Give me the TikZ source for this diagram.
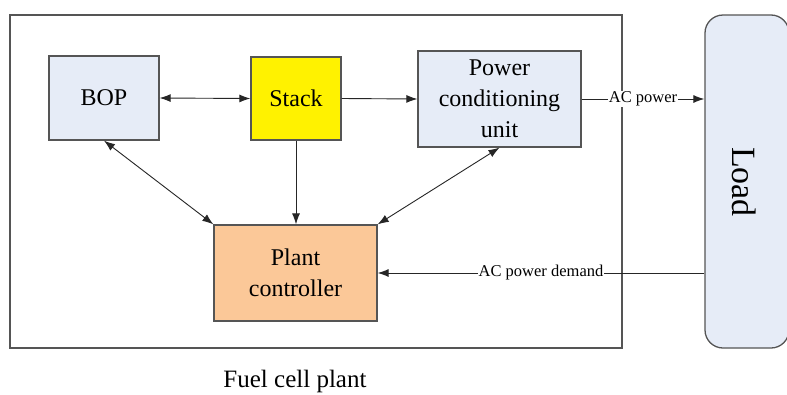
\documentclass[tikz,border=0pt]{standalone}
\usepackage{fontspec}
\setmainfont{Liberation Serif}
\usetikzlibrary{arrows.meta}
\definecolor{boxblue}{HTML}{E6ECF7}
\definecolor{ctrl}{HTML}{FBC898}
\definecolor{edge}{HTML}{555555}
\begin{document}
\begin{tikzpicture}[x=1pt,y=-1pt,
  blk/.style={draw=edge,line width=1.3pt,align=center,font=\rmfamily\fontsize{24}{31}\selectfont,inner sep=0pt},
  conn/.style={draw=black!85,line width=0.9pt,-{Latex[length=11pt,width=8pt]}},
  biconn/.style={draw=black!85,line width=0.9pt,{Latex[length=11pt,width=8pt]}-{Latex[length=11pt,width=8pt]}},
  lbl/.style={fill=white,inner sep=1pt,font=\rmfamily\fontsize{16.5}{18}\selectfont}]
\useasboundingbox (0,0) rectangle (787,394);
\fill[white] (0,0) rectangle (787,394);
\draw[edge,line width=1.3pt] (10,15) rectangle (622,348);
\node[blk,fill=boxblue,minimum width=110pt,minimum height=84pt] (bop) at (104,98) {BOP};
\node[blk,fill=yellow,minimum width=90pt,minimum height=83pt] (stack) at (296,98.5) {Stack};
\node[blk,fill=boxblue,minimum width=163pt,minimum height=96pt] (pcu) at (499.5,99) {Power\\conditioning\\unit};
\node[blk,fill=ctrl,minimum width=163pt,minimum height=96pt] (plant) at (295.5,273) {Plant\\controller};
\node[blk,fill=boxblue,rounded corners=18pt,minimum width=84pt,minimum height=333pt] (load) at (747,181.5) {};
\node[rotate=-90,font=\rmfamily\fontsize{34}{36}\selectfont] (loadtxt) at (744,182) {Load};
\node[font=\rmfamily\fontsize{25}{28}\selectfont] (fcp) at (295,381) {Fuel cell plant};
\draw[biconn] (bop.east) -- (stack.west);
\draw[conn] (stack.east) -- (pcu.west);
\draw[conn] (pcu.east) -- node[lbl] {AC power} (pcu.east -| load.west);
\draw[conn] (stack.south) -- (plant.north -| stack.south);
\draw[biconn] (bop.south) -- (plant.north west);
\draw[biconn] (pcu.south) -- (plant.north east);
\draw[conn] (plant.east -| load.west) -- node[lbl] {AC power demand} (plant.east);
\end{tikzpicture}
\end{document}
